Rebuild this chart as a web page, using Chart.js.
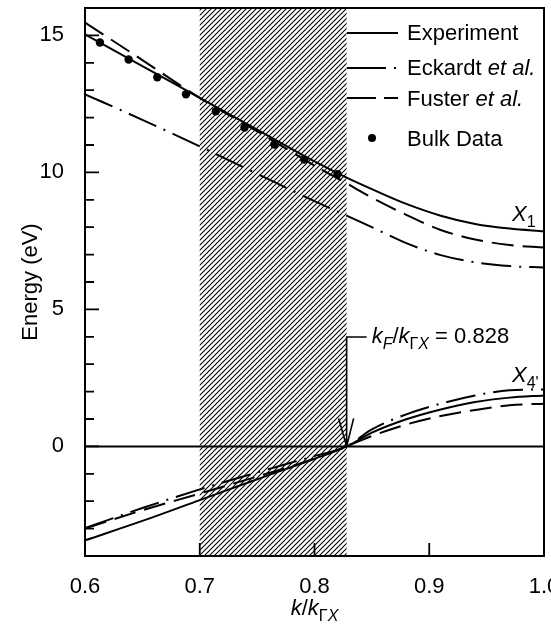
<!DOCTYPE html>
<html>
<head>
<meta charset="utf-8">
<script src="https://cdn.jsdelivr.net/npm/chart.js@4.4.1/dist/chart.umd.min.js"></script>
<style>
  html, body { margin: 0; padding: 0; background: #fff; overflow: hidden; }
  canvas { display: block; }
</style>
</head>
<body>
<canvas id="chart" width="575" height="624"></canvas>
<script>

// k / k_ΓX grid used for the band curves
const kGrid = [0.6, 0.65, 0.7, 0.75, 0.8, 0.828, 0.85, 0.88, 0.91, 0.94, 0.97, 1.0];

// X1 band (upper)
const expUpper = [15.04, 13.88, 12.72, 11.56, 10.40, 9.81, 9.39, 8.85, 8.42, 8.12, 7.95, 7.85];
const eckUpper = [12.85, 11.92, 10.95, 9.95, 8.95, 8.42, 8.00, 7.42, 6.98, 6.72, 6.58, 6.53];
const fusUpper = [15.47, 14.10, 12.72, 11.50, 10.25, 9.60, 9.08, 8.45, 7.90, 7.55, 7.35, 7.26];

// X4' band (lower)
const expLower = [-3.43, -2.72, -1.96, -1.20, -0.45, 0, 0.50, 0.99, 1.35, 1.62, 1.78, 1.86];
const eckLower = [-2.98, -2.25, -1.57, -0.95, -0.35, 0, 0.62, 1.17, 1.56, 1.86, 2.05, 2.08];
const fusLower = [-3.00, -2.33, -1.72, -1.10, -0.45, 0, 0.38, 0.80, 1.11, 1.33, 1.50, 1.56];

// bulk data points
const bulkK = [0.613, 0.638, 0.663, 0.688, 0.714, 0.739, 0.765, 0.791, 0.820];
const bulkE = [14.74, 14.12, 13.47, 12.85, 12.23, 11.64, 11.02, 10.47, 9.93];

// axes
const xTickValues = [0.6, 0.7, 0.8, 0.9, 1.0];
const xTickLabels = ["0.6", "0.7", "0.8", "0.9", "1.0"];
const yTickLabels = [0, 5, 10, 15];

// shaded region and Fermi wavevector
const shadeRange = [0.7, 0.828];
const kF = 0.828;

const FONT = "'Liberation Sans', Arial, sans-serif";

function zip(xs, ys) {
    return xs.map((x, i) => ({ x: x, y: ys[i] }));
}

function makeHatch(ctx) {
    const c = document.createElement("canvas");
    c.width = 5;
    c.height = 5;
    const g = c.getContext("2d");
    g.strokeStyle = "#000";
    g.lineWidth = 1.1;
    g.beginPath();
    g.moveTo(-1, 6); g.lineTo(6, -1);
    g.moveTo(-1, 1); g.lineTo(1, -1);
    g.moveTo(4, 6); g.lineTo(6, 4);
    g.stroke();
    return ctx.createPattern(c, "repeat");
}

// draw a run of text pieces: {t, it (italic), sub}
function drawParts(ctx, parts, x, y, align) {
    const fontOf = p => (p.it ? "italic " : "") + (p.sub ? "16px " : "22px ") + FONT;
    let total = 0;
    parts.forEach(p => { ctx.font = fontOf(p); total += ctx.measureText(p.t).width; });
    let cx = align === "center" ? x - total / 2 : x;
    ctx.textAlign = "left";
    ctx.textBaseline = "alphabetic";
    parts.forEach(p => {
        ctx.font = fontOf(p);
        ctx.fillText(p.t, cx, y + (p.sub ? 6 : 0));
        cx += ctx.measureText(p.t).width;
    });
}

const lineStyle = {
    borderColor: "#000",
    borderWidth: 2,
    pointRadius: 0,
    fill: false,
    cubicInterpolationMode: "monotone"
};
const eckDash = [30, 8, 2, 8];
const fusDash = [22, 9];

let hatch = null;

const decorPlugin = {
    id: "decor",
    beforeDatasetsDraw(chart) {
        const { ctx, chartArea: a, scales: { x, y } } = chart;
        if (!hatch) hatch = makeHatch(ctx);
        const x0 = x.getPixelForValue(shadeRange[0]);
        const x1 = x.getPixelForValue(shadeRange[1]);
        ctx.save();
        ctx.fillStyle = hatch;
        ctx.fillRect(x0, a.top, x1 - x0, a.bottom - a.top);

        // zero energy line
        const y0 = y.getPixelForValue(0);
        ctx.strokeStyle = "#000";
        ctx.lineWidth = 2;
        ctx.beginPath();
        ctx.moveTo(a.left, y0);
        ctx.lineTo(a.right, y0);
        ctx.stroke();
        ctx.restore();
    },
    afterDraw(chart) {
        const { ctx, chartArea: a, scales: { x, y } } = chart;
        ctx.save();
        ctx.strokeStyle = "#000";
        ctx.fillStyle = "#000";

        // frame
        ctx.lineWidth = 2;
        ctx.strokeRect(a.left, a.top, a.right - a.left, a.bottom - a.top);

        // inner ticks
        ctx.lineWidth = 1.8;
        ctx.beginPath();
        for (let v = Math.ceil(y.min) + 1; v < y.max; v++) {
            const py = y.getPixelForValue(v);
            const len = v % 5 === 0 ? 14 : 9;
            ctx.moveTo(a.left, py);
            ctx.lineTo(a.left + len, py);
        }
        xTickValues.slice(1, -1).forEach(v => {
            const px = x.getPixelForValue(v);
            ctx.moveTo(px, a.bottom);
            ctx.lineTo(px, a.bottom - 13);
        });
        ctx.stroke();

        // legend
        const lx0 = 347, lx1 = 398, tx = 407;
        ctx.lineWidth = 2;
        ctx.beginPath();
        ctx.moveTo(lx0, 33); ctx.lineTo(lx1, 33);
        ctx.moveTo(lx0, 68); ctx.lineTo(386, 68);
        ctx.moveTo(lx0, 98); ctx.lineTo(376, 98);
        ctx.moveTo(384, 98); ctx.lineTo(lx1, 98);
        ctx.stroke();
        ctx.fillRect(394, 67, 2, 2);
        ctx.beginPath();
        ctx.arc(372, 138, 4, 0, Math.PI * 2);
        ctx.fill();
        drawParts(ctx, [{ t: "Experiment" }], tx, 40);
        drawParts(ctx, [{ t: "Eckardt " }, { t: "et al.", it: true }], tx, 75);
        drawParts(ctx, [{ t: "Fuster " }, { t: "et al.", it: true }], tx, 106);
        drawParts(ctx, [{ t: "Bulk Data" }], tx, 146);

        // Fermi wavevector marker
        const kx = x.getPixelForValue(kF);
        const ky = y.getPixelForValue(0);
        ctx.lineWidth = 1.6;
        ctx.beginPath();
        ctx.moveTo(kx + 20, 337);
        ctx.lineTo(kx, 337);
        ctx.lineTo(kx, ky);
        ctx.moveTo(kx - 8, ky - 28);
        ctx.lineTo(kx, ky);
        ctx.lineTo(kx + 7, ky - 28);
        ctx.stroke();
        drawParts(ctx, [
            { t: "k", it: true }, { t: "F", it: true, sub: true }, { t: "/" },
            { t: "k", it: true }, { t: "Γ", sub: true }, { t: "X", it: true, sub: true },
            { t: " = 0.828" }
        ], kx + 25, 343);

        // band labels
        drawParts(ctx, [{ t: "X", it: true }, { t: "1", sub: true }], 512, 221);
        drawParts(ctx, [{ t: "X", it: true }, { t: "4'", sub: true }], 512, 382);

        // axis titles
        drawParts(ctx, [
            { t: "k", it: true }, { t: "/" }, { t: "k", it: true },
            { t: "Γ", sub: true }, { t: "X", it: true, sub: true }
        ], (a.left + a.right) / 2, 615, "center");

        ctx.translate(31, (a.top + a.bottom) / 2);
        ctx.rotate(-Math.PI / 2);
        ctx.font = "22px " + FONT;
        ctx.textAlign = "center";
        ctx.textBaseline = "middle";
        ctx.fillText("Energy (eV)", 0, 0);
        ctx.restore();
    }
};

Chart.defaults.font.family = FONT;
Chart.defaults.font.size = 22;
Chart.defaults.color = "#000";

new Chart(document.getElementById("chart"), {
    type: "line",
    data: {
        datasets: [
            { ...lineStyle, label: "Experiment", data: zip(kGrid, expUpper) },
            { ...lineStyle, label: "Experiment", data: zip(kGrid, expLower) },
            { ...lineStyle, label: "Eckardt et al.", data: zip(kGrid, eckUpper), borderDash: eckDash },
            { ...lineStyle, label: "Eckardt et al.", data: zip(kGrid, eckLower), borderDash: eckDash },
            { ...lineStyle, label: "Fuster et al.", data: zip(kGrid, fusUpper), borderDash: fusDash },
            { ...lineStyle, label: "Fuster et al.", data: zip(kGrid, fusLower), borderDash: fusDash },
            {
                type: "scatter",
                label: "Bulk Data",
                data: zip(bulkK, bulkE),
                pointRadius: 4.2,
                pointBackgroundColor: "#000",
                pointBorderWidth: 0,
                showLine: false
            }
        ]
    },
    options: {
        responsive: false,
        animation: false,
        events: [],
        layout: { padding: { top: 8, right: 31, left: 0, bottom: 0 } },
        plugins: { legend: { display: false }, tooltip: { enabled: false } },
        scales: {
            x: {
                type: "linear",
                min: 0.6,
                max: 1.0,
                grid: { display: false },
                border: { display: false },
                ticks: {
                    padding: 10,
                    callback: v => {
                        const i = xTickValues.findIndex(t => Math.abs(t - v) < 1e-6);
                        return i >= 0 ? xTickLabels[i] : "";
                    }
                },
                afterBuildTicks: s => { s.ticks = xTickValues.map(v => ({ value: v })); },
                afterFit: s => { s.height = 68; s.paddingLeft = 0; s.paddingRight = 0; }
            },
            y: {
                min: -4,
                max: 16,
                grid: { display: false },
                border: { display: false },
                ticks: { padding: 13 },
                afterBuildTicks: s => { s.ticks = yTickLabels.map(v => ({ value: v })); },
                afterFit: s => { s.width = 85; s.paddingTop = 0; s.paddingBottom = 0; }
            }
        }
    },
    plugins: [decorPlugin]
});
</script>
</body>
</html>
